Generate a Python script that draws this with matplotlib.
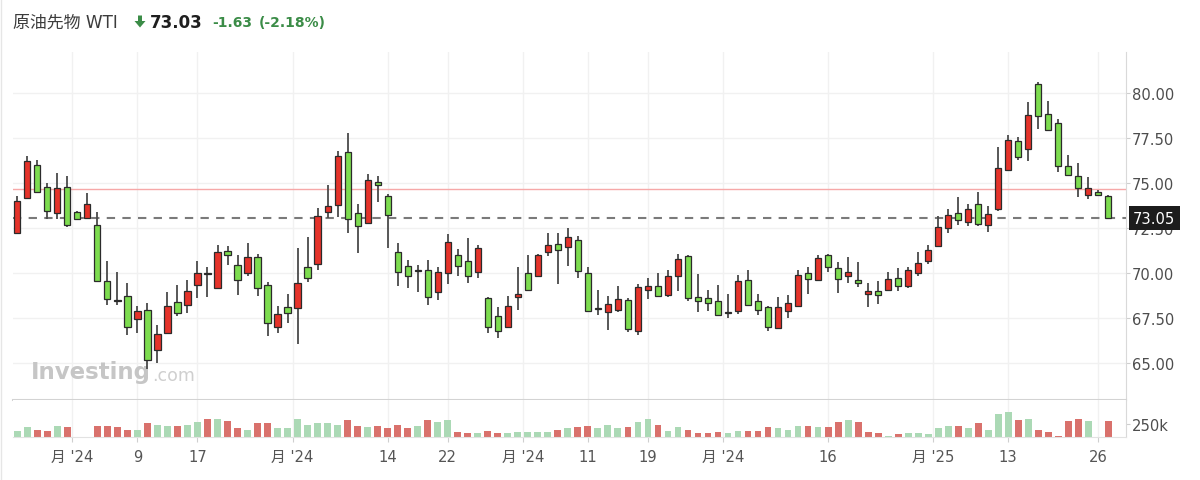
import matplotlib
matplotlib.use("Agg")
import matplotlib.pyplot as plt
from matplotlib.patches import Polygon
from matplotlib.lines import Line2D
import numpy as np

plt.rcParams["font.family"] = ["DejaVu Sans", "Noto Sans CJK JP"]

# daily candles (red = up, green = down)
opens = [72.21, 74.17, 76.02, 74.76, 73.33, 74.76, 73.41, 73.05, 72.67, 69.54,
         68.50, 68.70, 67.44, 67.96, 65.74, 66.67, 68.37, 68.24, 69.35, 69.98,
         69.15, 71.24, 70.44, 70.00, 70.87, 69.35, 67.02, 68.13, 68.04, 70.35,
         70.50, 73.37, 73.78, 76.74, 73.32, 72.76, 75.07, 74.30, 71.19, 70.41,
         70.13, 70.19, 68.93, 69.98, 71.00, 70.65, 70.04, 68.61, 67.63, 66.98,
         68.69, 70.00, 69.85, 71.19, 71.61, 71.43, 71.83, 70.00, 68.06, 67.81,
         67.96, 68.50, 66.76, 69.07, 69.26, 68.80, 69.85, 70.96, 68.69, 68.59,
         68.43, 67.82, 67.91, 69.63, 68.43, 68.09, 66.93, 67.91, 68.15, 70.00,
         69.63, 71.02, 70.26, 69.85, 69.61, 68.83, 69.02, 69.06, 69.70, 69.26,
         69.98, 70.69, 71.48, 72.48, 73.31, 72.85, 73.83, 72.67, 73.56, 75.74,
         77.31, 76.89, 80.50, 78.83, 78.31, 75.93, 75.41, 74.35, 74.48, 74.26]
highs = [74.26, 76.48, 76.30, 74.98, 75.56, 75.37, 73.46, 74.43, 73.41, 70.65,
         70.07, 69.43, 68.19, 68.33, 67.13, 68.96, 69.35, 69.61, 70.65, 70.35,
         71.55, 71.48, 71.00, 71.65, 71.05, 69.48, 68.19, 68.83, 71.37, 71.98,
         73.59, 74.89, 76.80, 77.78, 73.83, 75.50, 75.37, 74.39, 71.65, 70.72,
         70.46, 70.74, 70.35, 72.17, 71.33, 71.93, 71.57, 68.65, 68.13, 68.74,
         70.35, 71.00, 71.06, 72.20, 72.22, 72.50, 72.07, 70.31, 69.06, 68.70,
         69.26, 68.59, 69.39, 69.72, 70.00, 70.17, 71.06, 71.00, 69.94, 69.06,
         69.35, 68.83, 69.89, 70.17, 68.83, 68.19, 68.65, 68.78, 70.17, 70.35,
         71.00, 71.06, 70.59, 70.87, 70.59, 69.43, 69.57, 70.04, 70.26, 70.35,
         71.15, 71.56, 73.15, 73.55, 74.24, 73.83, 74.52, 73.70, 77.02, 77.69,
         77.57, 79.48, 80.63, 79.54, 78.56, 76.56, 76.09, 75.32, 74.63, 74.33]
lows = [72.20, 74.10, 74.42, 73.00, 73.00, 72.54, 72.96, 73.00, 69.48, 68.24,
        68.24, 66.56, 66.65, 64.67, 65.00, 66.67, 67.63, 67.78, 68.61, 68.68,
        69.15, 70.44, 68.80, 69.81, 68.74, 66.52, 66.67, 67.20, 66.06, 69.52,
        70.19, 73.04, 73.09, 72.20, 71.09, 72.70, 73.96, 71.37, 69.26, 69.17,
        68.93, 68.22, 68.52, 69.39, 69.85, 69.44, 69.70, 66.67, 66.39, 66.98,
        67.96, 69.02, 69.85, 70.93, 69.39, 70.37, 69.72, 67.81, 67.69, 66.83,
        67.81, 66.74, 66.57, 68.56, 68.74, 68.65, 68.98, 68.43, 67.81, 67.87,
        67.69, 67.50, 67.72, 68.22, 67.69, 66.80, 66.93, 67.50, 68.15, 68.83,
        69.63, 70.04, 68.87, 69.44, 69.20, 68.09, 68.28, 69.06, 69.02, 69.15,
        69.85, 70.50, 71.48, 72.20, 72.69, 72.63, 72.63, 72.26, 73.46, 75.74,
        76.30, 76.24, 78.00, 77.87, 75.63, 75.41, 74.24, 74.11, 74.35, 73.05]
closes = [73.98, 76.20, 74.48, 73.46, 74.70, 72.67, 73.00, 73.83, 69.57, 68.56,
          68.46, 66.98, 67.91, 65.17, 66.61, 68.19, 67.78, 69.02, 70.00, 69.97,
          71.15, 71.02, 69.61, 70.87, 69.17, 67.20, 67.72, 67.78, 69.43, 69.70,
          73.19, 73.70, 76.52, 73.00, 72.59, 75.17, 74.89, 73.24, 70.04, 69.85,
          70.12, 68.69, 70.07, 71.74, 70.37, 69.85, 71.37, 66.98, 66.80, 68.15,
          68.83, 69.06, 71.02, 71.56, 71.30, 72.02, 70.13, 67.87, 68.02, 68.28,
          68.56, 66.89, 69.20, 69.26, 68.74, 69.81, 70.78, 68.61, 68.43, 68.33,
          67.69, 67.80, 69.54, 68.22, 67.96, 66.98, 68.09, 68.31, 69.89, 69.67,
          70.83, 70.31, 69.67, 70.07, 69.43, 69.02, 68.80, 69.67, 69.26, 70.17,
          70.56, 71.30, 72.54, 73.24, 72.94, 73.56, 72.72, 73.28, 75.81, 77.39,
          76.43, 78.80, 78.74, 77.94, 75.93, 75.44, 74.72, 74.70, 74.35, 73.05]

# volume in thousands, with the colour of each bar (r / g, "-" = no bar)
volumes = [125, 188, 144, 125, 219, 188, 0, 0, 219, 219,
           188, 144, 144, 263, 231, 219, 219, 238, 281, 344,
           344, 300, 169, 144, 263, 263, 169, 169, 344, 238,
           263, 263, 238, 325, 219, 188, 219, 169, 238, 169,
           219, 325, 281, 325, 106, 81, 81, 125, 81, 81,
           106, 106, 106, 106, 144, 169, 188, 219, 169, 238,
           169, 188, 281, 344, 238, 125, 188, 144, 81, 81,
           106, 81, 125, 125, 125, 188, 169, 144, 219, 219,
           188, 188, 281, 325, 281, 106, 81, 31, 63, 81,
           81, 63, 169, 219, 219, 169, 263, 144, 438, 481,
           325, 344, 144, 106, 19, 300, 344, 300, 0, 300]
vol_dir = list("ggrrgr--rrrrgrggrggrgrrgrrgggggggrrgrrr"
               "rgrggrrgrrgggggrgrrgggrggrggrrrrggrrrggg"
               "rgrrgrrrgrgggggrgrgggrgrrrrrg-r")

prev_close = 74.66
last_price = 73.05

tick_pos = [5.5, 12, 18, 27.5, 37, 43, 50.5, 57, 63, 70.5, 81, 91.5, 99, 108]
tick_labels = ["月 '24", "9", "17", "月 '24", "14", "22", "月 '24", "11", "19",
               "月 '24", "16", "月 '25", "13", "26"]
price_ticks = [65.0, 67.5, 70.0, 72.5, 75.0, 77.5, 80.0]

W, H = 1200, 481
fig = plt.figure(figsize=(12, 4.81), dpi=100)


def rect(x0, y0, x1, y1):
    return [x0 / W, 1 - y1 / H, (x1 - x0) / W, (y1 - y0) / H]


ax = fig.add_axes(rect(12.7, 53, 1125.5, 401))
axv = fig.add_axes(rect(12.7, 401, 1125.5, 438.3), sharex=ax)

o = np.array(opens)
h = np.array(highs)
l = np.array(lows)
c = np.array(closes)
idx = np.arange(len(o))

red, green, dark = "#e5332a", "#7ddc4f", "#2b2b2b"
fills = []
for a, b in zip(o, c):
    if abs(b - a) < 0.06:
        fills.append(dark)
    elif b > a:
        fills.append(red)
    else:
        fills.append(green)

ax.vlines(idx, l, h, color="#4a4a4a", lw=1.3, zorder=2)
ax.bar(idx, np.maximum(np.abs(c - o), 0.03), bottom=np.minimum(o, c), width=0.62,
       color=fills, edgecolor="#2b2b2b", linewidth=0.9, zorder=3)

ax.axhline(prev_close, color="#f6a8a8", lw=1, zorder=1.5)
ax.axhline(last_price, color="#7a7a7a", lw=1.5, ls=(0, (4, 3.5)), zorder=1.6)

ax.set_xlim(-0.46, 110.71)
ax.set_ylim(62.944, 82.278)
ax.set_yticks(price_ticks)
ax.set_yticklabels([f"{v:.2f}" for v in price_ticks])
ax.yaxis.tick_right()
ax.tick_params(axis="y", length=3, width=0.8, color="#cfcfcf", pad=1.5,
               labelsize=10.6, labelcolor="#4d4d4d")
ax.tick_params(axis="x", length=0, labelbottom=False)
ax.set_xticks(tick_pos)
ax.grid(True, color="#f1f1f1", lw=1)
ax.set_axisbelow(True)
for s in ["left", "top"]:
    ax.spines[s].set_visible(False)
ax.spines["right"].set_color("#d9d9d9")
ax.spines["bottom"].set_color("#d3d3d3")
ax.spines["bottom"].set_linewidth(1.5)

ax.annotate(f"{last_price:.2f}", xy=(1, last_price), xycoords=("axes fraction", "data"),
            xytext=(5.5, 0), textcoords="offset points", ha="left", va="center",
            fontsize=10.6, color="white", annotation_clip=False, zorder=5,
            bbox=dict(boxstyle="square,pad=0.28", fc="#1c1c1c", ec="none"))

# watermark
ax.text(31 / W, 1 - 379 / H, "Investing", transform=fig.transFigure, fontsize=16.5,
        weight="bold", color="#c6c6c6", va="baseline", zorder=1)
ax.text(152 / W, 1 - 381 / H, ".com", transform=fig.transFigure, fontsize=12.5,
        color="#cfcfcf", va="baseline", zorder=1)

# volume pane
vcols = ["#d9716c" if d == "r" else "#abd9b5" for d in vol_dir]
axv.bar(idx, volumes, width=0.68, color=vcols, zorder=2)
axv.set_ylim(0, 701)
axv.set_yticks([250])
axv.set_yticklabels(["250k"])
axv.yaxis.tick_right()
axv.tick_params(axis="y", length=3, width=0.8, color="#cfcfcf", pad=1.5,
                labelsize=10.6, labelcolor="#4d4d4d")
axv.set_xticks(tick_pos)
axv.set_xticklabels(tick_labels)
axv.tick_params(axis="x", length=3.6, width=0.8, color="#cfcfcf", pad=5,
                labelsize=10.6, labelcolor="#555555")
axv.grid(True, axis="x", color="#f1f1f1", lw=1)
axv.set_axisbelow(True)
for s in ["left", "top"]:
    axv.spines[s].set_visible(False)
axv.spines["right"].set_color("#d9d9d9")
axv.spines["bottom"].set_color("#e2e2e2")

# header
yh = 1 - 22.7 / H
fig.text(13 / W, yh, "原油先物 WTI", fontsize=12.2, color="#3c3c3c", va="center")
arrow_px = [(138, 16.5), (142, 16.5), (142, 22), (145.5, 22), (140, 28.5),
            (134.5, 22), (138, 22)]
fig.add_artist(Polygon([(x / W, 1 - y / H) for x, y in arrow_px], closed=True,
                       transform=fig.transFigure, fc="#3b8c47", ec="none"))
fig.text(150 / W, yh, "73.03", fontsize=12, weight="bold", color="#1f1f1f", va="center")
fig.text(212 / W, yh, "-1.63", fontsize=10, weight="bold", color="#3b8c47", va="center")
fig.text(259 / W, yh, "(-2.18%)", fontsize=10, weight="bold", color="#3b8c47", va="center")

fig.add_artist(Line2D([1 / W, 1 / W], [0, 1], transform=fig.transFigure,
                      color="#e6e6e6", lw=1))

fig.savefig("out.png", dpi=100)
